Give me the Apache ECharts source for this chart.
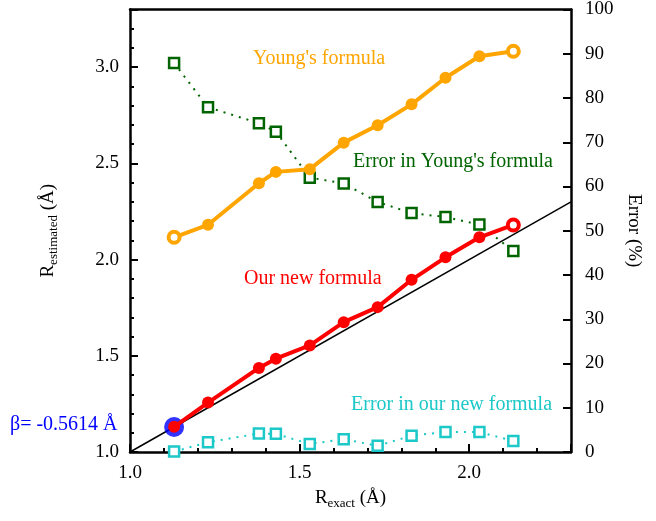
<!DOCTYPE html>
<html>
<head>
<meta charset="utf-8">
<script src="https://cdn.jsdelivr.net/npm/echarts@6/dist/echarts.min.js"></script>
<style>html,body{margin:0;padding:0;background:#fff;}#chart{width:656px;height:521px;}</style>
</head>
<body>
<div id="chart"></div>
<script>
const rExact = [1.13, 1.23, 1.38, 1.43, 1.53, 1.63, 1.73, 1.83, 1.93, 2.03, 2.13];
const youngValues = [2.116, 2.181, 2.397, 2.456, 2.470, 2.608, 2.698, 2.807, 2.945, 3.057, 3.083];
const newValues = [1.131, 1.257, 1.437, 1.485, 1.554, 1.675, 1.753, 1.895, 2.012, 2.116, 2.180];
const youngError = [87.9, 77.9, 74.3, 72.4, 62.0, 60.7, 56.5, 54.0, 53.1, 51.4, 45.4];
const newError = [0.1, 2.2, 4.2, 4.1, 1.8, 2.9, 1.4, 3.7, 4.5, 4.5, 2.5];
const diagonal = [1.0, 2.3];
const betaPoint = [1.13, 1.13];
const betaText = 'β= -0.5614 Å';

const FONT = 'Liberation Serif';
const ORANGE = '#FFA500', RED = '#FF0000', GREEN = '#006400', CYAN = '#1CC8C8', BLUE = '#0000FF';

function pairs(xs, ys) { return xs.map((x, i) => [x, ys[i]]); }
function ends(xs, ys, col, hollowFirst) {
  return xs.map((x, i) => {
    if (i === xs.length - 1 || (hollowFirst && i === 0))
      return { value: [x, ys[i]], symbolSize: 11, itemStyle: { color: '#fff', borderColor: col, borderWidth: 4 } };
    return [x, ys[i]];
  });
}

const chart = echarts.init(document.getElementById('chart'), null, { renderer: 'canvas' });
const axisLbl = { color: '#000', fontFamily: FONT, fontSize: 19 };
const richName = {
  a: { fontFamily: FONT, fontSize: 19, color: '#000', lineHeight: 24 },
  b: { fontFamily: FONT, fontSize: 13, color: '#000', lineHeight: 24, verticalAlign: 'bottom', padding: [9, 0, 0, 0] }
};
chart.setOption({
  animation: false,
  backgroundColor: '#fff',
  grid: { left: 130, right: 85, top: 9, bottom: 69, containLabel: false },
  xAxis: [{
    type: 'value', min: 1.0, max: 2.3, interval: 0.5,
    axisLine: { show: true, onZero: false, lineStyle: { color: '#000', width: 2.5 } },
    axisTick: { show: true, inside: true, length: 8, lineStyle: { color: '#000', width: 2 } },
    minorTick: { show: true, splitNumber: 5, length: 4, lineStyle: { color: '#000', width: 2 } },
    splitLine: { show: false },
    axisLabel: Object.assign({ margin: 12, showMaxLabel: false, formatter: v => v.toFixed(1) }, axisLbl),
    name: '{a|R}{b|exact}{a| (Å)}', nameLocation: 'middle', nameGap: 34,
    nameTextStyle: { rich: richName }
  }, {
    type: 'value', position: 'top', min: 1.0, max: 2.3,
    axisLine: { show: true, onZero: false, lineStyle: { color: '#000', width: 2.5 } },
    axisTick: { show: false }, axisLabel: { show: false }, splitLine: { show: false }
  }],
  yAxis: [{
    type: 'value', min: 1.0, max: 3.3, interval: 0.5, position: 'left',
    axisLine: { show: true, onZero: false, lineStyle: { color: '#000', width: 2.5 } },
    axisTick: { show: true, inside: true, length: 8, lineStyle: { color: '#000', width: 2 } },
    minorTick: { show: true, splitNumber: 5, length: 4, lineStyle: { color: '#000', width: 2 } },
    splitLine: { show: false },
    axisLabel: Object.assign({ margin: 11, showMaxLabel: false, formatter: v => v.toFixed(1) }, axisLbl),
    name: '{a|R}{b|estimated}{a| (Å)}', nameLocation: 'middle', nameGap: 70, nameRotate: 90,
    nameTextStyle: { rich: richName }
  }, {
    type: 'value', min: 0, max: 100, interval: 10, position: 'right',
    axisLine: { show: true, onZero: false, lineStyle: { color: '#000', width: 2.5 } },
    axisTick: { show: true, inside: true, length: 8, lineStyle: { color: '#000', width: 2 } },
    splitLine: { show: false },
    axisLabel: Object.assign({ margin: 14 }, axisLbl),
    name: 'Error (%)', nameLocation: 'middle', nameGap: 52, nameRotate: -90,
    nameTextStyle: { fontFamily: FONT, fontSize: 19, color: '#000' }
  }],
  series: [
    { type: 'line', data: pairs(diagonal, diagonal), showSymbol: false, symbol: 'none',
      lineStyle: { color: '#000', width: 1.5 }, z: 1, silent: true },
    { type: 'line', yAxisIndex: 1, data: pairs(rExact, youngError), symbol: 'rect', symbolSize: 10,
      itemStyle: { color: '#fff', borderColor: GREEN, borderWidth: 2.5 },
      lineStyle: { color: GREEN, width: 2, type: [2, 6] }, z: 2 },
    { type: 'line', yAxisIndex: 1, data: pairs(rExact, newError), symbol: 'rect', symbolSize: 10,
      itemStyle: { color: '#fff', borderColor: CYAN, borderWidth: 2.5 },
      lineStyle: { color: CYAN, width: 2, type: [2, 6] }, z: 2 },
    { type: 'line', data: ends(rExact, youngValues, ORANGE, true), symbol: 'circle', symbolSize: 12,
      itemStyle: { color: ORANGE }, lineStyle: { color: ORANGE, width: 4 }, z: 3 },
    { type: 'scatter', data: [betaPoint], symbol: 'circle', symbolSize: 20,
      itemStyle: { color: BLUE }, z: 3 },
    { type: 'line', data: ends(rExact, newValues, RED, false), symbol: 'circle', symbolSize: 12,
      itemStyle: { color: RED }, lineStyle: { color: RED, width: 4 }, z: 4 }
  ],
  graphic: [
    { type: 'text', left: 253, top: 49, style: { text: "Young's formula", fill: ORANGE, font: '20px "Liberation Serif"' } },
    { type: 'text', left: 353, top: 152, style: { text: "Error in Young's formula", fill: GREEN, font: '20px "Liberation Serif"' } },
    { type: 'text', left: 244, top: 269, style: { text: 'Our new formula', fill: RED, font: '20px "Liberation Serif"' } },
    { type: 'text', left: 351, top: 395, style: { text: 'Error in our new formula', fill: CYAN, font: '20px "Liberation Serif"' } },
    { type: 'text', left: 10, top: 415, style: { text: betaText, fill: BLUE, font: '20px "Liberation Serif"' } }
  ]
});
</script>
</body>
</html>
